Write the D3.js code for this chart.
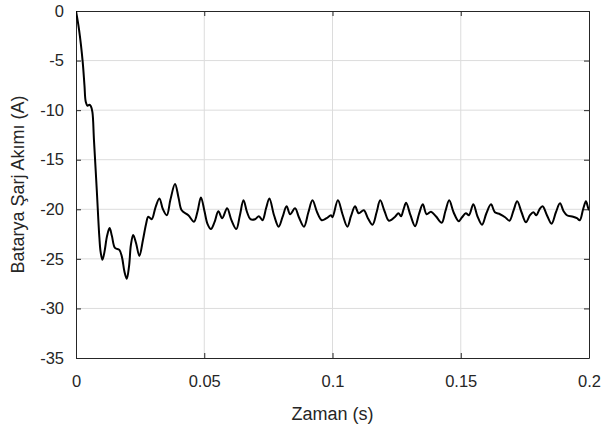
<!DOCTYPE html>
<html>
<head>
<meta charset="utf-8">
<script src="https://cdn.jsdelivr.net/npm/d3@7"></script>
<style>
  body { margin: 0; background: #fff; }
  svg { display: block; font-family: Arial, "Liberation Sans", sans-serif; }
  .tick text { font-size: 16.5px; fill: #262626; }
  .grid line { stroke: #dcdcdc; stroke-width: 1; }
  .axislabel { font-size: 18px; fill: #262626; }
</style>
</head>
<body>
<div id="chart"></div>
<script>
// time (s) and battery charge current (A)
var timeValues = [0, 0.0012, 0.0026, 0.0033, 0.0038, 0.0045, 0.0052, 0.0058, 0.0064, 0.0070,
  0.0081, 0.0091, 0.0096, 0.0103, 0.0111, 0.0121, 0.0131, 0.0140, 0.0152, 0.0169,
  0.0179, 0.0189, 0.0198, 0.0207, 0.0214, 0.0223, 0.0234, 0.0247, 0.0261, 0.0273,
  0.0282, 0.0295, 0.0310, 0.0325, 0.0339, 0.0354, 0.0368, 0.0386, 0.0400, 0.0412,
  0.0438, 0.0460, 0.0474, 0.0487, 0.0501, 0.0513, 0.0526, 0.0540, 0.0555, 0.0570,
  0.0589, 0.0606, 0.0625, 0.0639, 0.0653, 0.0667, 0.0680, 0.0698, 0.0713, 0.0727,
  0.0741, 0.0754, 0.0772, 0.0790, 0.0805, 0.0821, 0.0835, 0.0854, 0.0869, 0.0889,
  0.0906, 0.0922, 0.0940, 0.0958, 0.0977, 0.0994, 0.1000, 0.1021, 0.1039, 0.1058,
  0.1072, 0.1088, 0.1102, 0.1122, 0.1138, 0.1156, 0.1172, 0.1186, 0.1203, 0.1220,
  0.1244, 0.1257, 0.1267, 0.1277, 0.1287, 0.1304, 0.1322, 0.1337, 0.1352, 0.1367,
  0.1384, 0.1403, 0.1426, 0.1440, 0.1455, 0.1472, 0.1492, 0.1505, 0.1520, 0.1532,
  0.1549, 0.1565, 0.1583, 0.1600, 0.1618, 0.1633, 0.1653, 0.1673, 0.1690, 0.1706,
  0.1720, 0.1737, 0.1754, 0.1770, 0.1783, 0.1795, 0.1807, 0.1819, 0.1836, 0.1854,
  0.1871, 0.1887, 0.1901, 0.1914, 0.1938, 0.1953, 0.1964, 0.1977, 0.1988, 0.1996,
  0.2000];

var currentValues = [0, -1.9, -5.1, -7.5, -9.15, -9.55, -9.45, -9.6, -10.2, -13.0,
  -18.05, -22.8, -24.3, -25.1, -24.3, -22.7, -21.9, -22.7, -23.9, -24.1,
  -24.8, -26.3, -27.0, -25.7, -23.6, -22.6, -23.4, -24.7, -23.1, -21.5,
  -20.75, -21.0, -19.8, -18.9, -20.0, -20.6, -19.05, -17.45, -18.85, -20.1,
  -20.6, -21.25, -20.2, -18.8, -20.2, -21.5, -22.0, -21.3, -20.2, -20.9,
  -19.9, -21.1, -22.0, -20.6, -19.1, -20.3, -21.0, -21.0, -20.7, -21.1,
  -19.9, -18.9, -20.6, -21.75, -20.8, -19.7, -20.5, -19.9, -20.8, -21.75,
  -20.3, -19.1, -20.3, -21.1, -20.9, -20.6, -20.8, -19.1, -20.5, -21.75,
  -20.7, -19.7, -20.4, -20.1, -20.9, -21.55, -20.3, -19.1, -20.2, -21.15,
  -20.75, -20.4, -20.7, -20.0, -19.35, -20.6, -21.7, -20.5, -19.5, -20.5,
  -20.25, -20.7, -21.35, -20.2, -19.1, -20.3, -21.2, -20.8, -20.4, -20.6,
  -19.5, -20.7, -21.55, -20.4, -19.5, -20.3, -20.5, -20.8, -21.15, -20.1,
  -19.2, -20.3, -21.3, -20.6, -20.3, -20.6, -20.0, -19.7, -20.6, -21.45,
  -20.3, -19.4, -20.2, -20.6, -20.75, -20.9, -21.1, -20.0, -19.2, -19.8,
  -20.1];

var xTicks = [0, 0.05, 0.1, 0.15, 0.2];
var xTickLabels = ["0", "0.05", "0.1", "0.15", "0.2"];
var yTicks = [0, -5, -10, -15, -20, -25, -30, -35];

var data = timeValues.map(function(t, i) { return { t: t, v: currentValues[i] }; });

var margin = { top: 11, right: 15, bottom: 74, left: 76 },
    width = 604 - margin.left - margin.right,
    height = 432 - margin.top - margin.bottom;

var svg = d3.select("#chart")
  .append("svg")
    .attr("width", 604)
    .attr("height", 432)
  .append("g")
    .attr("transform", `translate(${margin.left},${margin.top})`);

var xscale = d3.scaleLinear().domain([0, 0.2]).range([0, width]);
var yscale = d3.scaleLinear().domain([-35, 0]).range([height, 0]);

// grid lines
svg.append("g")
  .attr("class", "grid")
  .selectAll("line.gx")
  .data(xTicks.slice(1, -1))
  .join("line")
    .attr("x1", d => xscale(d)).attr("x2", d => xscale(d))
    .attr("y1", 0).attr("y2", height);

svg.select(".grid")
  .selectAll("line.gy")
  .data(yTicks.slice(1, -1))
  .join("line")
    .attr("class", "gy")
    .attr("x1", 0).attr("x2", width)
    .attr("y1", d => yscale(d)).attr("y2", d => yscale(d));

// axes (ticks pointing inward, MATLAB style)
var xAxis = d3.axisBottom(xscale).tickValues(xTicks)
  .tickFormat((d, i) => xTickLabels[i]).tickSizeInner(-5).tickSizeOuter(0).tickPadding(17);
var yAxis = d3.axisLeft(yscale).tickValues(yTicks)
  .tickFormat(d => String(d)).tickSizeInner(-5).tickSizeOuter(0).tickPadding(12);

svg.append("g").attr("class", "x axis")
  .attr("transform", `translate(0,${height})`).call(xAxis);
svg.append("g").attr("class", "y axis").call(yAxis);

svg.append("g").call(d3.axisTop(xscale).tickValues(xTicks).tickFormat("").tickSizeInner(-5).tickSizeOuter(0));
svg.append("g").attr("transform", `translate(${width},0)`)
  .call(d3.axisRight(yscale).tickValues(yTicks).tickFormat("").tickSizeInner(-5).tickSizeOuter(0));

svg.selectAll(".domain").attr("stroke", "#262626");
svg.selectAll(".tick line").attr("stroke", "#262626");

// the curve
var valueline = d3.line()
  .x(d => xscale(d.t))
  .y(d => yscale(d.v))
  .curve(d3.curveCatmullRom.alpha(0.5));

svg.append("defs").append("clipPath").attr("id", "clip")
  .append("rect").attr("x", 0).attr("y", 0).attr("width", width).attr("height", height);

svg.append("path")
  .datum(data)
  .attr("clip-path", "url(#clip)")
  .attr("fill", "none")
  .attr("stroke", "#000")
  .attr("stroke-width", 2)
  .attr("stroke-linejoin", "round")
  .attr("d", valueline);

// axis labels
svg.append("text")
  .attr("class", "axislabel")
  .attr("text-anchor", "middle")
  .attr("x", width / 2)
  .attr("y", height + 62)
  .text("Zaman (s)");

svg.append("text")
  .attr("class", "axislabel")
  .attr("text-anchor", "middle")
  .attr("transform", "rotate(-90)")
  .attr("x", -height / 2)
  .attr("y", -52)
  .text("Batarya Şarj Akımı (A)");
</script>
</body>
</html>
